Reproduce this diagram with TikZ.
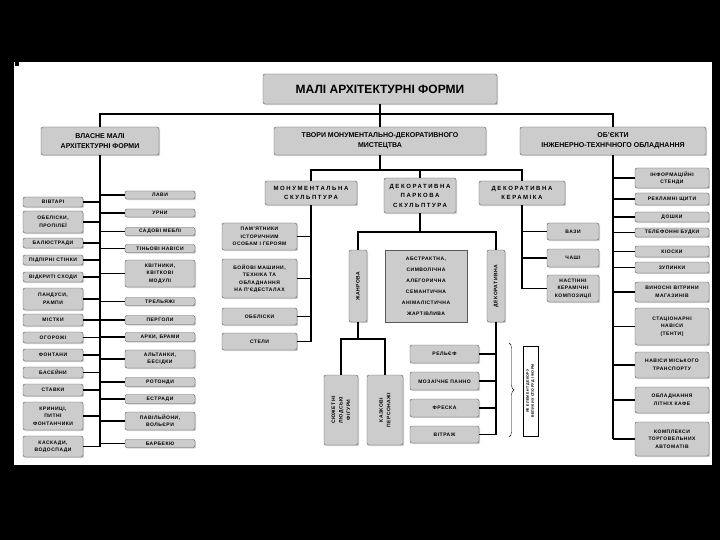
\documentclass[tikz,border=0pt]{standalone}
\usepackage{fontspec}
\setmainfont{Liberation Sans}
\newfontfamily\leaffont[LetterSpace=10]{Liberation Sans}
\newfontfamily\midfont[LetterSpace=26]{Liberation Sans}
\usetikzlibrary{shadows,decorations.pathreplacing}

\tikzset{
  box/.style={draw=black!65, fill=black!20, rounded corners=2pt, align=center, inner sep=0pt,
    drop shadow={opacity=0.35, shadow xshift=1.2pt, shadow yshift=-1.2pt}},
  leaf/.style={box, font=\leaffont\bfseries\fontsize{5}{7.5}\selectfont},
  lcol/.style={leaf, minimum width=60pt},
  rcol/.style={leaf, minimum width=70pt},
  mcol/.style={leaf, minimum width=75pt},
  kcol/.style={leaf, minimum width=52pt},
  dcol/.style={leaf, minimum width=69pt},
  ocol/.style={leaf, minimum width=74pt},
  head/.style={box, font=\bfseries\fontsize{7}{10}\selectfont, minimum height=28pt},
  sub/.style={box, font=\midfont\bfseries\fontsize{6}{9.5}\selectfont},
  vert/.style={leaf, rotate=90},
  link/.style={line width=1.6pt}
}

\begin{document}
\begin{tikzpicture}[x=1pt, y=-1pt]
    % Чорна рамка слайда
    \useasboundingbox (0,0) rectangle (720,540);
    \fill[black] (0,0) rectangle (720,540);
    \fill[white] (14,62) rectangle (712,465);
    \fill[black] (15,61) rectangle (19,66);

    % Заголовок і три головні групи
    \node[box, font=\bfseries\fontsize{12}{14}\selectfont, minimum width=234pt, minimum height=30pt] (title) at (380,89) {МАЛІ АРХІТЕКТУРНІ ФОРМИ};
    \node[head, minimum width=118pt] (vlasne) at (100,141) {ВЛАСНЕ МАЛІ\\АРХІТЕКТУРНІ ФОРМИ};
    \node[head, minimum width=212pt] (tvory) at (380,141) {ТВОРИ МОНУМЕНТАЛЬНО-ДЕКОРАТИВНОГО\\МИСТЕЦТВА};
    \node[head, minimum width=186pt] (obj) at (613,141) {ОБ'ЄКТИ\\ІНЖЕНЕРНО-ТЕХНІЧНОГО ОБЛАДНАННЯ};
    \coordinate (topbar) at (380,114);
    \draw[link] (title) -- (topbar);
    \draw[link] (vlasne) |- (topbar) -| (obj);
    \draw[link] (tvory) -- (topbar);

    % Власне МАФ: лівий стовпчик
    \node[lcol, minimum height=10pt] (l1) at (53,202) {ВІВТАРІ};
    \node[lcol, minimum height=22pt] (l2) at (53,222) {ОБЕЛІСКИ,\\ПРОПІЛЕЇ};
    \node[lcol, minimum height=10pt] (l3) at (53,243) {БАЛЮСТРАДИ};
    \node[lcol, minimum height=10pt] (l4) at (53,260) {ПІДПІРНІ СТІНКИ};
    \node[lcol, minimum height=10pt] (l5) at (53,277) {ВІДКРИТІ СХОДИ};
    \node[lcol, minimum height=22pt] (l6) at (53,299) {ПАНДУСИ,\\РАМПИ};
    \node[lcol, minimum height=12pt] (l7) at (53,320) {МІСТКИ};
    \node[lcol, minimum height=11pt] (l8) at (53,337.5) {ОГОРОЖІ};
    \node[lcol, minimum height=12pt] (l9) at (53,355) {ФОНТАНИ};
    \node[lcol, minimum height=11pt] (l10) at (53,372.5) {БАСЕЙНИ};
    \node[lcol, minimum height=12pt] (l11) at (53,390) {СТАВКИ};
    \node[lcol, minimum height=28pt] (l12) at (53,416) {КРИНИЦІ,\\ПИТНІ\\ФОНТАНЧИКИ};
    \node[lcol, minimum height=21pt] (l13) at (53,446.5) {КАСКАДИ,\\ВОДОСПАДИ};

    % Власне МАФ: правий стовпчик
    \node[rcol, minimum height=8pt] (r1) at (160,195) {ЛАВИ};
    \node[rcol, minimum height=8pt] (r2) at (160,213) {УРНИ};
    \node[rcol, minimum height=8pt] (r3) at (160,231.5) {САДОВІ МЕБЛІ};
    \node[rcol, minimum height=8pt] (r4) at (160,248.5) {ТІНЬОВІ НАВІСИ};
    \node[rcol, minimum height=27pt] (r5) at (160,273.5) {КВІТНИКИ,\\КВІТКОВІ\\МОДУЛІ};
    \node[rcol, minimum height=8pt] (r6) at (160,301.5) {ТРЕЛЬЯЖІ};
    \node[rcol, minimum height=9pt] (r7) at (160,320) {ПЕРГОЛИ};
    \node[rcol, minimum height=9pt] (r8) at (160,337) {АРКИ, БРАМИ};
    \node[rcol, minimum height=18pt] (r9) at (160,359) {АЛЬТАНКИ,\\БЕСІДКИ};
    \node[rcol, minimum height=9pt] (r10) at (160,382) {РОТОНДИ};
    \node[rcol, minimum height=9pt] (r11) at (160,399) {ЕСТРАДИ};
    \node[rcol, minimum height=18pt] (r12) at (160,421) {ПАВІЛЬЙОНИ,\\ВОЛЬЄРИ};
    \node[rcol, minimum height=8pt] (r13) at (160,443.5) {БАРБЕКЮ};

    \draw[link] (vlasne) -- (vlasne |- l13);
    \foreach \i in {1,...,13} \draw[link] (l\i) -- (l\i -| vlasne);
    \foreach \i in {1,...,13} \draw[link] (vlasne |- r\i) -- (r\i);

    % Твори монументально-декоративного мистецтва
    \node[sub, minimum width=92pt, minimum height=24pt] (monum) at (311,193) {МОНУМЕНТАЛЬНА\\СКУЛЬПТУРА};
    \node[sub, minimum width=72pt, minimum height=35pt] (park) at (420,195.5) {ДЕКОРАТИВНА\\ПАРКОВА\\СКУЛЬПТУРА};
    \node[sub, minimum width=86pt, minimum height=24pt] (keram) at (522,193) {ДЕКОРАТИВНА\\КЕРАМІКА};
    \coordinate (midbar) at (380,170);
    \draw[link] (tvory) -- (midbar);
    \draw[link] (monum) |- (midbar) -| (keram);
    \draw[link] (park) -- (park |- midbar);

    % Монументальна скульптура
    \node[mcol, minimum height=27pt] (m1) at (259.5,236.5) {ПАМ'ЯТНИКИ\\ІСТОРИЧНИМ\\ОСОБАМ І ГЕРОЯМ};
    \node[mcol, minimum height=39pt] (m2) at (259.5,278.5) {БОЙОВІ МАШИНИ,\\ТЕХНІКА ТА\\ОБЛАДНАННЯ\\НА П'ЄДЕСТАЛАХ};
    \node[mcol, minimum height=17pt] (m3) at (259.5,316.5) {ОБЕЛІСКИ};
    \node[mcol, minimum height=17pt] (m4) at (259.5,341.5) {СТЕЛИ};
    \draw[link] (monum) -- (monum |- m4);
    \foreach \i in {1,...,4} \draw[link] (m\i) -- (m\i -| monum);

    % Декоративна паркова скульптура
    \node[vert, minimum width=72pt, minimum height=18pt] (zhanr) at (358,286) {ЖАНРОВА};
    \node[leaf, minimum width=82pt, minimum height=72pt, rounded corners=0pt,
      font=\leaffont\bfseries\fontsize{5}{11}\selectfont] (typy) at (426,286)
      {АБСТРАКТНА,\\СИМВОЛІЧНА\\АЛЕГОРИЧНА\\СЕМАНТИЧНА\\АНІМАЛІСТИЧНА\\ЖАРТІВЛИВА};
    \node[vert, minimum width=72pt, minimum height=18pt] (dekor) at (496,286) {ДЕКОРАТИВНА};
    \coordinate (parkbar) at (420,232);
    \draw[link] (park) -- (parkbar);
    \draw[link] (zhanr) |- (parkbar) -| (dekor);

    \node[vert, minimum width=70pt, minimum height=34pt] (syuzh) at (341,410) {СЮЖЕТНІ\\ЛЮДСЬКІ\\ФІГУРИ};
    \node[vert, minimum width=70pt, minimum height=36pt] (kazk) at (385,410) {КАЗКОВІ\\ПЕРСОНАЖІ};
    \coordinate (zhbar) at (358,339);
    \draw[link] (zhanr) -- (zhbar);
    \draw[link] (syuzh) |- (zhbar) -| (kazk);

    \node[dcol, minimum height=18pt] (d1) at (444.5,354) {РЕЛЬЄФ};
    \node[dcol, minimum height=18pt] (d2) at (444.5,381) {МОЗАЇЧНЕ ПАННО};
    \node[dcol, minimum height=18pt] (d3) at (444.5,408) {ФРЕСКА};
    \node[dcol, minimum height=17pt] (d4) at (444.5,434.5) {ВІТРАЖ};
    \draw[link] (dekor) -- (dekor |- d4);
    \foreach \i in {1,...,4} \draw[link] (d\i) -- (d\i -| dekor);

    % Фігурна дужка і примітка
    \coordinate (brtop) at (509,343);
    \coordinate (brbot) at (509,437);
    \draw[decorate, decoration={brace, amplitude=5pt}] (brtop) -- (brbot);
    \node[draw=black, fill=white, rotate=90, align=center, inner sep=0pt, minimum width=90pt, minimum height=15pt,
      font=\leaffont\bfseries\fontsize{3.6}{5}\selectfont] (note) at (530.5,391) {ЯК ЕЛЕМЕНТ ДЕКОРУ\\ВЕЛИКИХ СПОРУД І ФОРМ};

    % Декоративна кераміка
    \node[kcol, minimum height=17pt] (k1) at (573,231.5) {ВАЗИ};
    \node[kcol, minimum height=18pt] (k2) at (573,258) {ЧАШІ};
    \node[kcol, minimum height=27pt] (k3) at (573,288.5) {НАСТІННІ\\КЕРАМІЧНІ\\КОМПОЗИЦІЇ};
    \draw[link] (keram) -- (keram |- k3);
    \foreach \i in {1,2,3} \draw[link] (keram |- k\i) -- (k\i);

    % Об'єкти інженерно-технічного обладнання
    \node[ocol, minimum height=20pt] (o1) at (672,178) {ІНФОРМАЦІЙНІ\\СТЕНДИ};
    \node[ocol, minimum height=12pt] (o2) at (672,199) {РЕКЛАМНІ ЩИТИ};
    \node[ocol, minimum height=10pt] (o3) at (672,217) {ДОШКИ};
    \node[ocol, minimum height=9pt] (o4) at (672,232.5) {ТЕЛЕФОННІ БУДКИ};
    \node[ocol, minimum height=11pt] (o5) at (672,251.5) {КІОСКИ};
    \node[ocol, minimum height=11pt] (o6) at (672,267.5) {ЗУПИНКИ};
    \node[ocol, minimum height=20pt] (o7) at (672,292) {ВИНОСНІ ВІТРИНИ\\МАГАЗИНІВ};
    \node[ocol, minimum height=37pt] (o8) at (672,326.5) {СТАЦІОНАРНІ\\НАВІСИ\\(ТЕНТИ)};
    \node[ocol, minimum height=26pt] (o9) at (672,365) {НАВІСИ МІСЬКОГО\\ТРАНСПОРТУ};
    \node[ocol, minimum height=26pt] (o10) at (672,400) {ОБЛАДНАННЯ\\ЛІТНІХ КАФЕ};
    \node[ocol, minimum height=34pt] (o11) at (672,439) {КОМПЛЕКСИ\\ТОРГОВЕЛЬНИХ\\АВТОМАТІВ};
    \draw[link] (obj) -- (obj |- o11);
    \foreach \i in {1,...,11} \draw[link] (obj |- o\i) -- (o\i);
\end{tikzpicture}
\end{document}
